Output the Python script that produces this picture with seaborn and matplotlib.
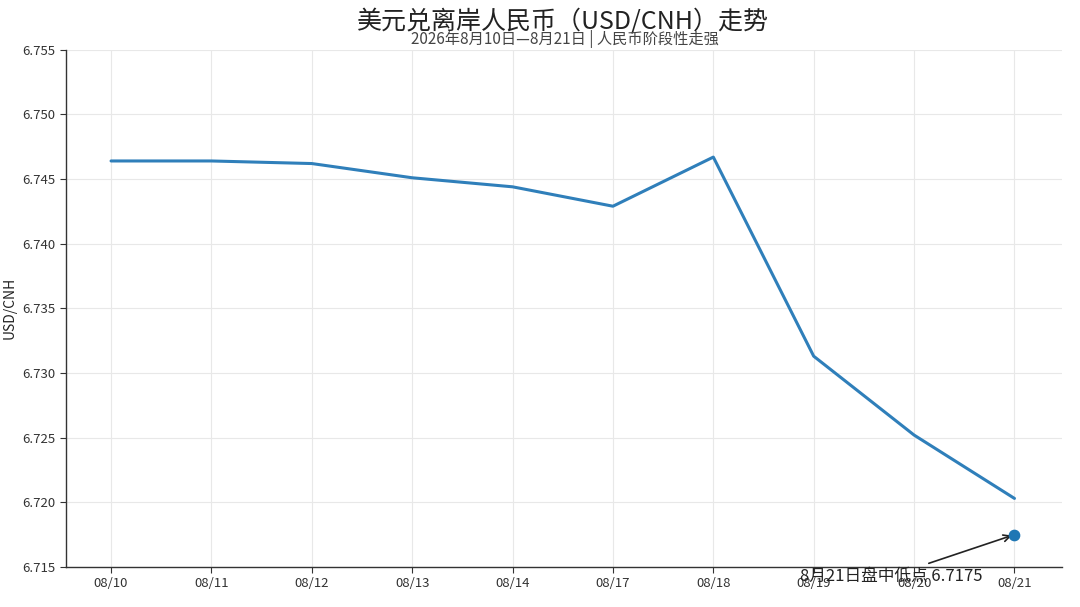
import matplotlib
matplotlib.use("Agg")
import matplotlib.pyplot as plt
import pandas as pd
import seaborn as sns

# data
dates = ["08/10", "08/11", "08/12", "08/13", "08/14", "08/17", "08/18", "08/19", "08/20", "08/21"]
rates = [6.7464, 6.7464, 6.7462, 6.7451, 6.7444, 6.7429, 6.7467, 6.7313, 6.7252, 6.7203]
low_date = "08/21"
low_value = 6.7175
yticks = [6.715, 6.720, 6.725, 6.730, 6.735, 6.740, 6.745, 6.750, 6.755]

df = pd.DataFrame({"date": dates, "rate": rates})

sns.set_style("white")
plt.rcParams["font.family"] = ["Noto Sans CJK SC", "DejaVu Sans"]

fig, ax = plt.subplots(figsize=(10.8, 6.07), dpi=100)
fig.subplots_adjust(left=0.061, right=0.983, bottom=0.066, top=0.918)

sns.lineplot(data=df, x="date", y="rate", ax=ax, color="#2f7fba", linewidth=2.2, sort=False)
low_x = dates.index(low_date)
ax.scatter([low_x], [low_value], color="#1f77b4", s=55, zorder=5)
ax.annotate("8月21日盘中低点 6.7175", xy=(low_x, low_value), xytext=(low_x - 1.23, 6.7143),
            ha="center", va="center", fontsize=12, color="#222222",
            arrowprops=dict(arrowstyle="->", color="#222222", lw=1.2),
            annotation_clip=False)

ax.set_ylim(6.715, 6.755)
ax.set_yticks(yticks)
ax.set_yticklabels([f"{v:.3f}" for v in yticks])
ax.set_xlim(-0.45, len(dates) - 1 + 0.47)
ax.grid(True, color="#e8e8e8", linewidth=0.8)
ax.set_axisbelow(True)
ax.tick_params(axis="both", labelsize=9.5, colors="#333333", length=4, direction="out", left=True, bottom=True)
for side in ["top", "right"]:
    ax.spines[side].set_visible(False)
for side in ["left", "bottom"]:
    ax.spines[side].set_color("#333333")
    ax.spines[side].set_linewidth(1.0)

ax.set_xlabel("")
ax.set_ylabel("USD/CNH", fontsize=10, color="#222222")

fig.text(0.521, 0.965, "美元兑离岸人民币（USD/CNH）走势", ha="center", va="center", fontsize=18, color="#222222")
fig.text(0.523, 0.936, "2026年8月10日—8月21日 | 人民币阶段性走强", ha="center", va="center", fontsize=11, color="#444444")

fig.savefig("out.png", dpi=100, facecolor="white")
